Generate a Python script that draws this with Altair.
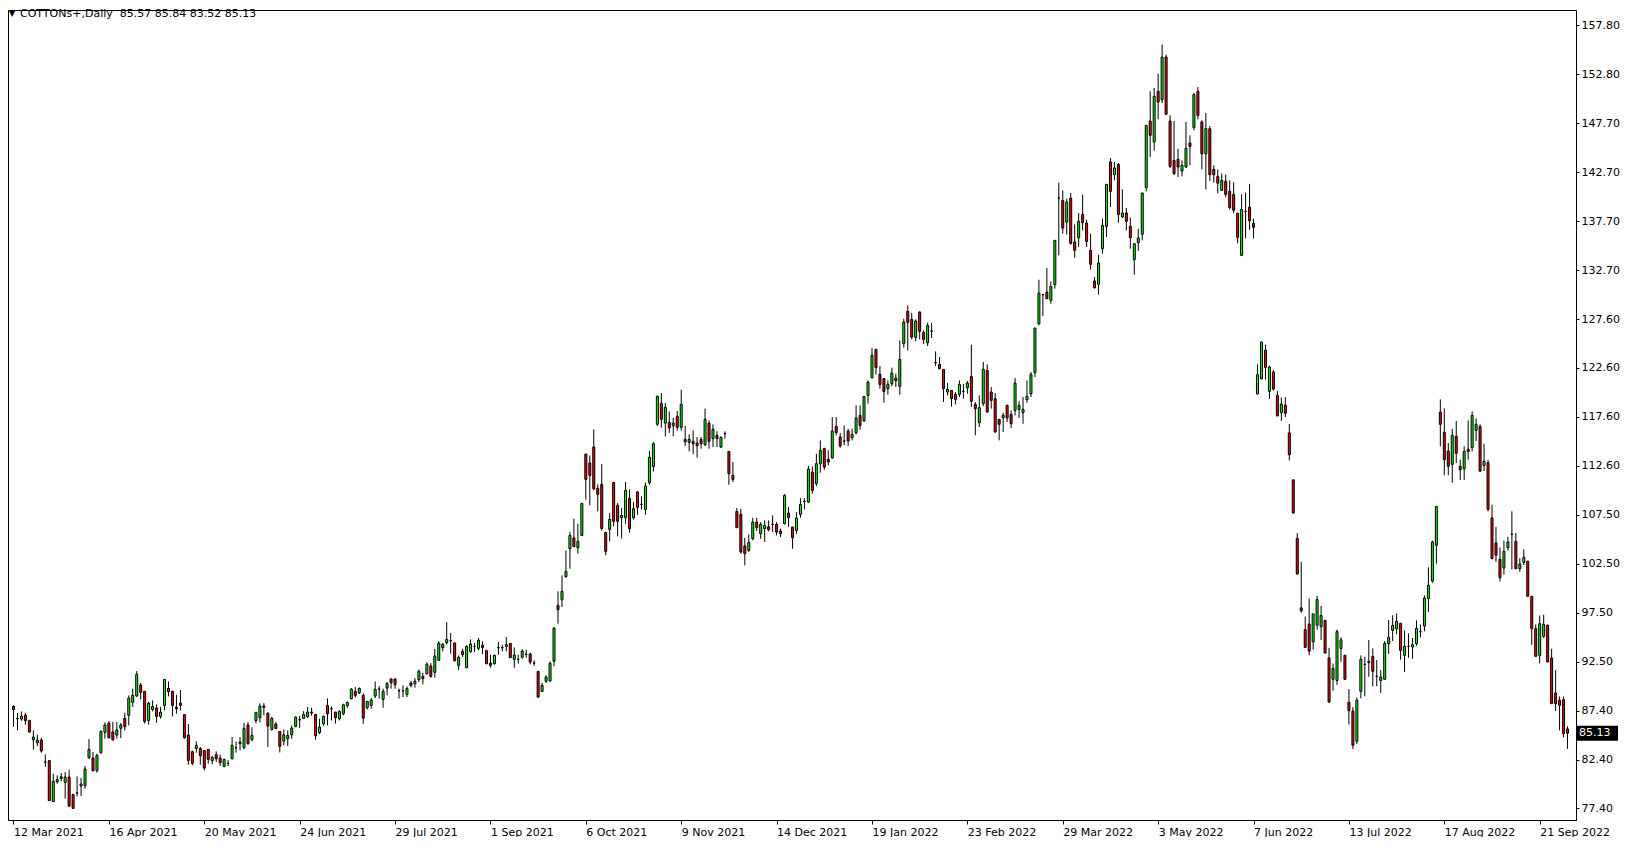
import json
import altair as alt
import pandas as pd

# ---------------- data ----------------
open_ = [87.89,86.62,86.58,86.99,86.45,84.46,84.15,84.43,82.17,82.31,78.10,80.12,80.46,80.08,80.63,78.85,78.99,79.71,79.74,82.61,
82.58,81.28,83.13,85.22,86.17,85.25,84.94,85.63,86.65,86.96,88.30,88.95,90.08,89.43,86.44,87.57,87.71,86.85,87.98,89.73,
89.42,87.81,88.22,87.03,84.94,83.23,83.57,83.57,83.36,83.47,82.30,82.92,82.58,81.72,82.03,82.51,83.64,84.05,83.64,85.97,
84.46,86.41,86.72,87.92,87.20,85.52,86.07,85.31,84.32,84.56,84.97,85.83,86.51,86.65,86.82,87.20,87.06,85.18,86.10,87.98,
87.64,87.30,86.62,87.13,87.95,88.67,89.42,89.28,89.01,87.74,87.98,88.94,89.66,88.60,89.76,90.69,90.69,89.49,89.49,89.11,
90.28,90.21,90.62,90.96,91.24,92.03,91.38,92.61,93.91,94.42,94.63,94.39,92.09,93.53,91.85,93.50,94.04,93.84,94.15,93.60,
92.33,92.27,93.91,93.91,94.04,94.35,92.71,92.71,92.92,93.22,93.26,92.33,91.48,89.42,90.45,90.50,92.51,98.25,98.84,101.20,
104.07,105.17,104.17,105.44,113.79,112.87,114.51,110.27,110.68,105.75,106.06,110.88,108.52,107.25,107.25,109.24,107.25,109.89,108.62,108.11,
110.85,112.49,116.84,118.99,116.97,117.04,116.70,117.66,116.53,115.30,114.99,115.09,114.92,115.30,114.75,116.97,115.37,115.71,114.51,115.88,
114.06,111.60,107.90,107.60,104.35,103.90,105.10,106.81,105.61,106.13,106.33,106.57,106.57,105.89,106.64,107.73,106.30,105.95,107.60,108.93,
108.86,111.94,110.75,112.80,114.34,113.24,113.38,116.63,115.54,115.13,116.15,115.47,115.98,117.76,117.21,119.81,121.63,124.54,121.97,121.53,
120.50,121.01,121.59,120.74,125.12,128.44,127.62,125.77,128.37,126.28,125.22,126.42,123.17,123.00,122.48,120.16,120.33,119.92,119.92,120.22,
120.60,121.76,118.89,117.01,118.96,122.38,120.16,119.47,117.35,117.52,118.79,117.86,118.27,118.38,118.04,119.37,119.98,122.14,127.17,130.15,
130.42,129.57,131.18,140.07,139.83,137.61,140.07,135.56,136.00,138.40,137.51,134.70,131.56,131.21,134.87,137.17,143.77,142.47,143.53,138.13,
138.54,137.17,133.75,135.49,136.35,141.14,147.98,145.83,151.03,150.17,154.55,147.98,143.94,144.05,142.85,143.26,145.72,147.30,151.03,147.88,
144.63,147.20,143.02,142.30,140.87,141.80,140.75,140.45,138.51,134.19,138.71,139.13,137.47,119.97,121.52,124.45,120.21,122.21,119.82,118.04,
118.82,115.96,111.13,105.14,98.00,95.76,96.34,94.52,96.22,96.07,96.72,92.86,90.66,90.54,93.82,93.13,88.30,87.40,84.30,89.42,
92.20,92.37,93.02,90.97,90.55,90.66,94.32,95.69,95.86,96.41,93.12,94.04,93.98,94.32,95.55,96.13,98.94,100.75,104.42,118.10,
116.02,114.10,112.73,115.61,112.53,112.28,114.27,114.44,116.22,116.63,112.63,112.90,107.22,104.66,102.98,102.09,104.18,105.55,104.83,102.02,
102.67,102.77,99.18,95.86,93.12,95.08,96.20,92.85,89.26,88.50,88.57,85.57]

high = [88.00,87.20,87.37,87.23,86.45,85.42,84.98,84.67,82.96,82.38,80.97,80.80,81.04,81.14,81.38,78.85,80.70,80.53,81.76,84.53,
83.20,83.02,85.42,86.24,86.38,86.28,86.28,86.17,87.23,89.01,89.70,91.51,90.28,89.43,88.33,88.50,88.09,87.81,90.65,90.45,
89.50,89.08,89.56,87.10,86.07,83.33,84.29,83.71,83.36,83.47,82.78,83.26,82.92,82.54,82.37,84.73,84.29,84.73,86.20,86.27,
85.73,87.27,88.19,88.22,87.27,86.79,86.27,85.35,85.52,85.42,85.93,86.86,86.89,87.40,87.81,87.74,87.06,86.62,86.92,88.70,
87.88,87.30,87.47,88.16,88.39,89.76,89.87,89.83,89.22,88.39,88.74,90.45,89.97,89.70,90.38,90.79,90.79,89.70,90.04,89.93,
90.52,90.79,91.68,91.34,92.40,92.33,93.77,94.56,94.39,96.54,95.41,94.45,93.12,93.81,94.15,94.76,94.39,94.90,94.56,93.70,
93.19,93.19,94.49,94.22,95.00,94.35,93.94,93.19,93.74,93.70,93.39,92.61,91.48,90.31,91.07,92.51,96.00,99.69,101.33,103.90,
105.78,107.15,106.64,108.73,113.79,113.65,116.32,110.68,112.76,105.75,107.73,110.88,108.76,108.25,110.92,110.16,108.86,110.00,109.44,110.85,
114.13,115.02,119.81,120.05,119.03,118.17,117.49,118.21,120.40,116.67,115.81,116.22,115.54,115.54,118.45,117.25,116.84,116.12,115.61,116.12,
114.06,112.97,108.25,108.18,105.20,105.54,107.25,107.25,106.81,106.98,106.98,107.49,106.81,106.13,109.68,108.35,106.30,107.83,109.27,109.27,
112.59,112.52,113.83,115.19,114.44,114.17,117.59,117.59,115.95,116.73,116.39,116.39,118.79,118.79,119.71,121.35,124.67,124.54,122.83,121.59,
121.35,122.66,122.04,125.46,127.69,129.05,128.30,127.62,128.44,126.49,127.28,127.24,124.33,123.75,122.48,121.08,120.33,120.16,121.35,121.01,
121.28,125.02,119.13,119.81,123.24,123.00,120.67,120.05,117.35,118.04,118.86,118.27,121.59,119.20,119.64,121.35,122.21,126.73,131.69,130.25,
132.89,131.52,135.73,141.65,140.86,140.00,140.59,137.37,138.53,140.42,137.85,136.41,131.97,134.26,137.95,141.48,144.18,143.77,143.67,140.97,
139.05,138.06,135.39,136.93,140.59,147.54,151.03,151.37,152.84,155.85,154.79,148.56,147.98,145.14,143.94,147.88,146.51,150.89,151.47,148.05,
148.80,147.47,143.43,143.00,142.60,142.50,141.90,141.70,138.51,140.45,140.64,141.53,137.97,122.99,125.30,125.03,122.87,122.41,120.28,119.59,
119.63,116.89,111.21,105.68,102.71,97.11,98.96,97.38,99.24,98.19,96.72,93.90,92.28,95.76,94.98,93.13,89.66,87.80,88.80,93.12,
92.98,94.69,93.84,92.64,91.62,94.59,96.75,97.24,97.44,96.41,95.69,95.38,94.90,96.72,96.30,99.28,102.16,104.90,108.42,119.41,
118.48,114.92,116.39,117.18,113.21,114.58,117.25,118.17,117.45,116.84,114.85,113.20,108.60,106.30,104.20,104.90,105.30,107.91,105.70,103.10,
104.00,102.85,99.20,96.30,97.20,97.30,96.30,93.80,91.60,88.90,88.90,85.84]

low = [85.76,85.42,86.41,86.00,85.18,83.44,83.81,83.13,81.66,78.20,78.10,79.95,80.18,78.41,77.55,77.41,78.64,78.68,79.43,82.51,
81.21,81.07,83.02,84.57,84.57,84.36,84.57,84.63,85.42,85.93,87.82,88.84,88.60,86.11,86.00,87.37,86.20,86.62,87.47,88.91,
86.85,87.13,87.47,84.56,81.89,81.82,83.12,81.89,81.31,81.99,81.93,82.17,81.76,81.62,81.76,82.44,83.12,83.36,83.47,83.95,
84.29,86.14,86.24,86.96,83.71,85.38,85.52,83.15,83.88,83.81,84.56,85.73,85.66,86.58,86.68,86.92,84.46,85.04,85.90,85.93,
86.44,86.10,86.44,86.96,87.74,88.60,88.77,89.15,86.10,87.57,87.64,88.74,88.67,87.74,89.01,89.70,89.70,88.67,88.84,88.84,
89.83,89.80,90.38,90.14,91.14,90.83,90.83,92.54,93.53,94.25,93.29,92.50,91.58,92.95,91.82,93.39,93.46,93.63,93.26,92.20,
91.85,92.16,93.19,93.53,93.53,92.88,91.85,92.27,92.78,92.88,92.20,92.03,88.77,89.36,90.28,90.40,92.00,96.37,98.08,101.09,
102.02,104.24,103.56,105.37,109.10,108.52,110.06,107.90,105.92,103.39,104.82,106.36,105.34,105.10,106.64,105.71,107.05,107.56,108.08,107.56,
110.64,112.01,116.67,116.49,115.61,115.95,115.61,116.19,116.19,114.61,114.06,113.79,113.41,114.34,114.61,114.34,114.51,114.51,114.41,115.37,
110.64,110.92,106.23,103.56,102.36,103.73,104.93,105.89,105.10,104.76,105.85,105.78,105.44,105.27,106.57,106.30,104.07,105.61,107.25,108.11,
108.76,109.72,110.51,111.88,112.18,112.63,113.31,115.71,114.44,114.68,114.61,115.19,115.81,116.29,117.08,118.96,121.53,121.94,120.50,119.06,
119.88,120.74,120.67,119.88,124.71,124.43,125.56,125.36,125.56,125.08,124.88,125.70,122.83,122.48,119.13,119.81,118.65,118.89,119.64,119.47,
119.98,118.62,115.71,116.56,118.72,118.04,118.45,115.98,115.19,116.05,117.08,116.46,117.76,117.49,116.90,119.06,119.64,121.69,127.00,127.96,
129.74,129.23,130.77,134.19,136.41,136.31,135.28,133.95,135.04,136.75,135.04,132.72,130.77,130.15,134.36,136.07,139.15,141.89,137.54,138.02,
136.76,134.87,132.21,134.64,135.73,140.76,144.29,144.94,148.15,149.83,148.67,143.16,142.47,142.23,142.30,143.16,143.43,147.03,148.15,143.02,
140.97,141.82,141.65,140.56,140.80,140.17,138.90,138.51,135.42,134.11,135.93,136.81,135.93,119.90,121.44,121.44,119.43,120.28,117.70,117.19,
117.58,113.14,107.73,101.47,97.50,93.94,93.13,93.71,95.76,94.71,93.36,88.22,89.50,90.08,92.47,90.66,86.02,83.50,84.00,88.71,
88.92,90.93,89.94,89.94,89.26,90.62,93.29,94.59,95.28,92.68,91.41,92.88,92.78,94.11,94.97,95.59,97.58,100.58,102.53,114.58,
111.62,111.62,110.85,112.87,111.14,111.14,113.21,114.06,115.13,111.94,112.04,107.90,103.00,102.70,100.70,101.40,103.90,101.95,102.00,101.70,
102.40,99.18,94.20,93.00,92.30,94.90,92.44,88.16,87.40,85.42,84.70,83.52]

close = [87.54,86.62,86.89,86.41,85.25,84.74,84.43,83.30,82.17,78.20,80.18,80.36,80.66,80.63,77.65,77.41,78.99,79.91,81.45,83.47,
81.28,82.85,85.32,85.97,84.67,84.46,85.46,85.97,85.80,88.74,89.01,91.17,89.32,86.34,88.22,87.88,86.85,87.30,90.65,89.39,
87.98,87.64,87.98,84.66,82.34,82.03,83.88,82.82,81.55,82.44,82.65,82.51,82.10,82.44,82.03,83.88,83.64,84.22,85.62,84.05,
84.90,87.27,87.92,87.78,85.86,86.65,85.62,83.78,84.97,84.90,85.66,86.79,86.51,87.06,87.30,87.30,84.87,85.76,86.86,87.13,
87.64,86.72,87.37,88.05,88.29,89.66,89.01,89.73,86.68,88.39,88.53,89.63,89.66,89.42,90.24,90.31,90.11,89.49,89.49,89.73,
90.04,90.47,91.48,90.73,92.23,90.96,93.05,94.39,94.25,94.76,94.63,92.57,92.92,93.19,94.04,94.28,94.04,94.66,93.91,92.27,
92.09,93.12,93.91,93.91,94.22,92.88,93.15,92.71,93.57,93.22,92.44,92.33,88.84,90.04,90.90,92.30,95.93,97.81,99.69,101.74,
105.44,104.28,104.82,108.73,111.19,111.60,110.23,109.65,106.13,103.80,107.08,106.88,106.88,107.49,110.06,106.13,108.18,108.32,108.62,110.51,
113.45,114.85,119.71,117.35,118.58,116.46,116.97,116.53,118.89,115.06,115.30,114.85,114.65,114.85,117.35,115.09,116.32,115.37,115.50,115.88,
111.77,111.19,106.23,103.73,103.56,104.72,106.81,106.23,106.57,106.47,106.02,106.57,105.78,105.61,109.55,107.25,105.20,107.22,108.62,108.93,
112.25,110.06,112.80,114.17,112.46,112.97,116.15,115.98,114.61,115.13,115.13,115.81,117.49,116.73,119.71,121.18,123.92,122.66,120.94,120.22,
120.94,122.11,121.32,123.51,127.34,127.31,125.80,127.45,126.39,125.56,127.00,126.42,123.17,122.55,120.50,120.43,119.47,119.40,120.94,120.22,
121.08,119.20,118.45,118.55,122.49,118.10,119.30,116.05,116.84,117.76,117.49,116.90,121.08,118.79,118.38,119.71,121.97,126.73,130.32,130.15,
129.74,131.00,135.73,140.07,136.99,139.66,135.42,134.70,137.68,137.54,135.62,133.27,130.87,133.40,137.27,141.48,140.76,143.16,138.37,138.54,
137.68,136.00,135.39,135.97,140.59,147.54,146.51,150.51,149.93,154.55,148.67,143.33,142.57,143.26,143.43,145.18,145.38,150.69,148.56,144.63,
147.20,142.47,142.47,141.60,141.90,140.45,139.09,138.82,136.04,138.90,138.71,137.74,137.08,121.94,125.30,122.68,122.72,120.48,117.70,118.93,
117.97,113.72,107.73,101.47,97.69,93.94,93.56,97.38,98.85,97.22,93.36,88.34,91.78,95.56,94.71,90.66,87.45,83.90,88.50,92.71,
92.20,92.51,91.48,90.97,90.90,94.35,94.97,96.20,96.61,93.63,94.04,94.04,94.22,95.89,95.55,99.01,100.31,104.76,108.42,116.84,
113.21,112.53,115.71,113.86,112.18,114.06,114.06,117.76,116.84,112.04,113.04,108.11,103.05,103.39,101.10,103.80,104.76,105.55,102.02,102.50,
103.19,99.18,95.86,93.02,96.37,96.30,92.44,88.16,88.16,87.99,85.08,85.13]

date_labels = ["12 Mar 2021", "16 Apr 2021", "20 May 2021", "24 Jun 2021", "29 Jul 2021",
               "1 Sep 2021", "6 Oct 2021", "9 Nov 2021", "14 Dec 2021", "19 Jan 2022",
               "23 Feb 2022", "29 Mar 2022", "3 May 2022", "7 Jun 2022", "13 Jul 2022",
               "17 Aug 2022", "21 Sep 2022"]
bars_per_label = 24

price_ticks = [77.4, 82.425, 87.45, 92.475, 97.5, 102.525, 107.55, 112.575, 117.6,
               122.625, 127.65, 132.675, 137.7, 142.725, 147.75, 152.775, 157.8]
price_labels = ["77.40", "82.40", "87.40", "92.50", "97.50", "102.50", "107.50", "112.60",
                "117.60", "122.60", "127.60", "132.70", "137.70", "142.70", "147.70",
                "152.80", "157.80"]

header = "COTTONs+,Daily\u00a0\u00a085.57 85.84 83.52 85.13"
last_price = 85.13

# ---------------- chart ----------------
UP = "#00FF00"
DOWN = "#FF0000"
FONT = "DejaVu Sans"
PX_PER_UNIT = 9.74          # vertical pixels per price unit in the reference

n = len(close)
df = pd.DataFrame({"i": list(range(n)), "open": open_, "high": high,
                   "low": low, "close": close})
df["dir"] = ["up" if c > o else ("down" if c < o else "flat")
             for o, c in zip(df["open"], df["close"])]

# 4 px per bar, bar centres on pixel centres
W, H = 1568, 810
xscale = alt.Scale(domain=[-0.125, W / 4 - 0.125], nice=False, zero=False)
yscale = alt.Scale(domain=[159.38 - H / PX_PER_UNIT, 159.38], nice=False, zero=False)

date_js = json.dumps(date_labels)
price_js = json.dumps(price_labels)

x_axis = alt.Axis(
    orient="bottom", values=[k * bars_per_label for k in range(len(date_labels))],
    labelExpr=f"{date_js}[round(datum.value / {bars_per_label})]",
    title=None, grid=False, domain=True, domainColor="#000000", domainWidth=1,
    ticks=True, tickColor="#000000", tickSize=4, labelAlign="left", labelBaseline="top",
    labelPadding=2, labelFont=FONT, labelFontSize=11, labelColor="#000000",
    labelOverlap=False, labelFlush=False, labelBound=False,
)
y_axis = alt.Axis(
    orient="right", values=price_ticks,
    labelExpr=f"{price_js}[round((datum.value - 77.4) / 5.025)]",
    title=None, grid=False, domain=True, domainColor="#000000", domainWidth=1,
    ticks=True, tickColor="#000000", tickSize=3, labelPadding=2,
    labelFont=FONT, labelFontSize=11, labelColor="#000000",
    labelOverlap=False, labelFlush=False, labelBound=False,
)

base = alt.Chart(df)

wicks = base.mark_rule(color="#000000", strokeWidth=1).encode(
    x=alt.X("i:Q", scale=xscale, axis=x_axis),
    y=alt.Y("low:Q", scale=yscale, axis=y_axis),
    y2="high:Q",
)

bodies = base.mark_bar(size=2, stroke="#000000", strokeWidth=1).encode(
    x=alt.X("i:Q", scale=xscale),
    y=alt.Y("open:Q", scale=yscale),
    y2="close:Q",
    fill=alt.Fill("dir:N", scale=alt.Scale(domain=["up", "down", "flat"],
                                             range=[UP, DOWN, "#000000"]), legend=None),
)

title_df = pd.DataFrame({"t": [header]})
tri = alt.Chart(title_df).mark_text(text="\u25BC", font=FONT, fontSize=8, color="#000000",
                                     align="center", baseline="middle").encode(
    x=alt.value(4), y=alt.value(4))
head = alt.Chart(title_df).mark_text(font=FONT, fontSize=11, color="#000000",
                                      align="left", baseline="middle").encode(
    text="t:N", x=alt.value(12), y=alt.value(4))

# current-price tag on the price scale (15 px tall box)
half_box = 7.5 / PX_PER_UNIT
lp_df = pd.DataFrame({"p": [last_price], "hi": [last_price + half_box],
                      "lo": [last_price - half_box], "t": [f"{last_price:.2f}"]})
lp_box = alt.Chart(lp_df).mark_rect(color="#000000").encode(
    y=alt.Y("hi:Q", scale=yscale), y2="lo:Q", x=alt.value(W + 1), x2=alt.value(W + 42))
lp_text = alt.Chart(lp_df).mark_text(font=FONT, fontSize=11, color="#FFFFFF",
                                      align="left", baseline="middle").encode(
    y=alt.Y("p:Q", scale=yscale), x=alt.value(W + 3), text="t:N")

chart = alt.layer(wicks, bodies, tri, head, lp_box, lp_text).properties(
    width=W, height=H,
    padding={"left": 0, "top": 0, "right": 0, "bottom": 0},
    background="#FFFFFF",
).configure_view(stroke="#000000", strokeWidth=1)

chart.save("out.html", embed_options={"renderer": "svg", "actions": False})
